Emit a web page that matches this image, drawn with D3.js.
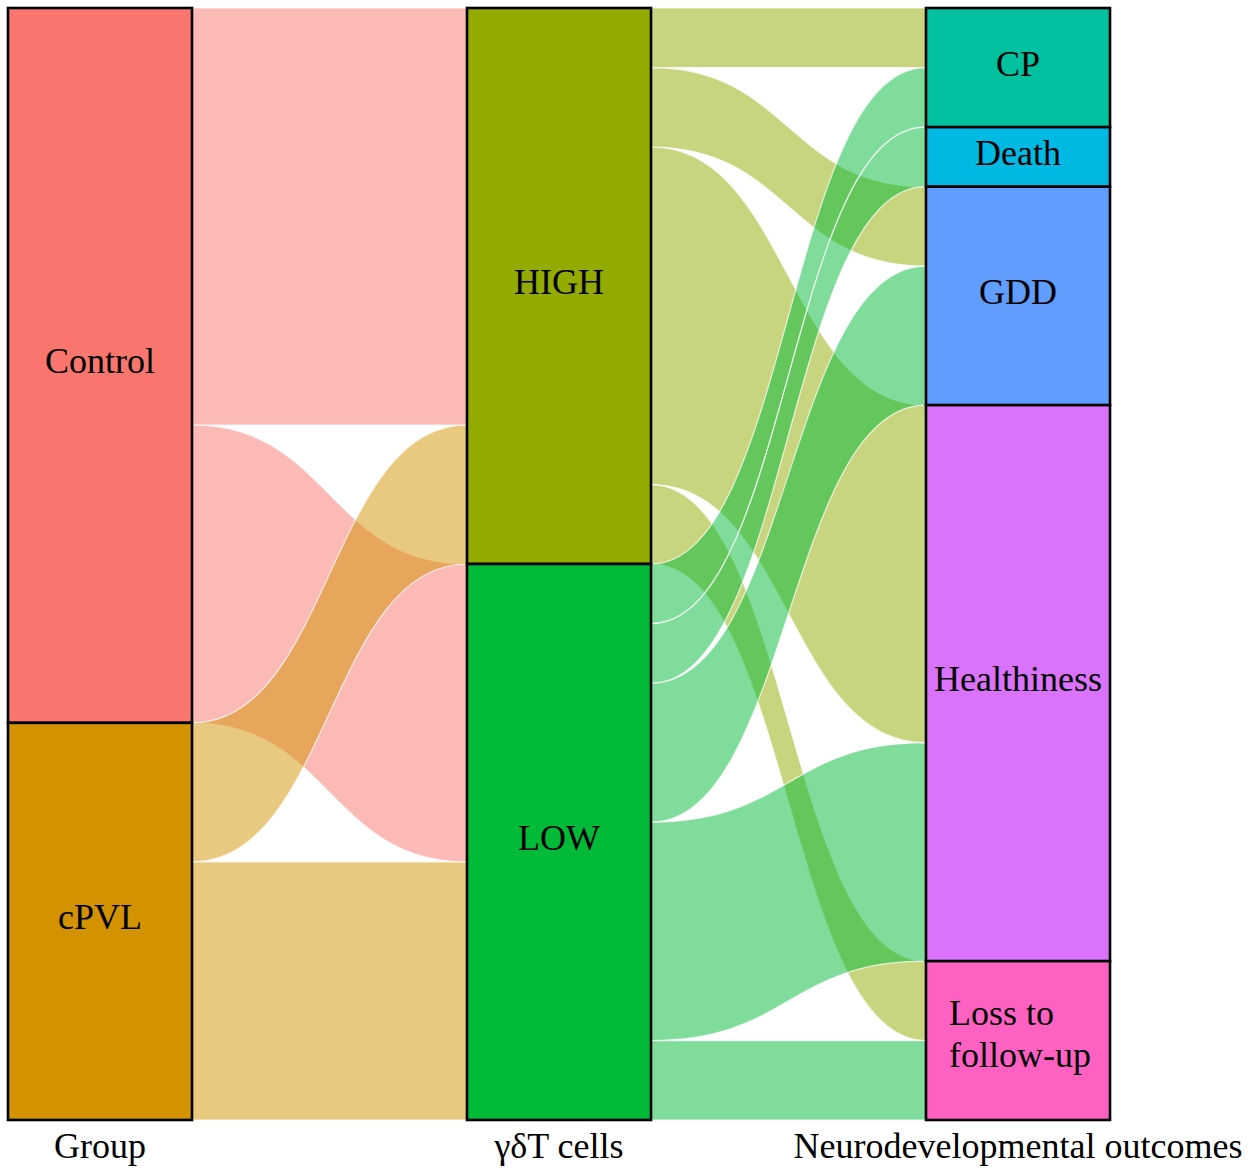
<!DOCTYPE html>
<html>
<head>
<meta charset="utf-8">
<script src="https://cdn.jsdelivr.net/npm/d3@7/dist/d3.min.js"></script>
<style>
  html, body { margin: 0; padding: 0; background: #fff; }
  svg text { font-family: "Liberation Serif", "Times New Roman", serif; fill: #000; }
</style>
</head>
<body>
<svg id="chart" width="1248" height="1171"></svg>
<script>
// ---------------- data ----------------
const axisTitles = ["Group", "γδT cells", "Neurodevelopmental outcomes"];
const groups = ["Control", "cPVL"];
const cells = ["HIGH", "LOW"];
const outcomes = ["CP", "Death", "GDD", "Healthiness", "Loss to follow-up"];
const outcomeLabels = [["CP"], ["Death"], ["GDD"], ["Healthiness"], ["Loss to", "follow-up"]];
// counts: rows = groups, columns = cells
const groupToCell = [
  [21, 15],   // Control -> HIGH, LOW
  [7, 13]     // cPVL -> HIGH, LOW
];
// counts: rows = cells, columns = outcomes
const cellToOutcome = [
  [3, 0, 4, 17, 4],   // HIGH
  [3, 3, 7, 11, 4]    // LOW
];
const strataColors = {
  "Control": "#F8766D", "cPVL": "#D39200",
  "HIGH": "#93AA00", "LOW": "#00BA38",
  "CP": "#00C19F", "Death": "#00B9E3", "GDD": "#619CFF",
  "Healthiness": "#DB72FB", "Loss to follow-up": "#FF61C3"
};

// ---------------- layout ----------------
const svg = d3.select("#chart");
const total = d3.sum(groupToCell.flat());
const y = d3.scaleLinear().domain([0, total]).range([8, 1120]);
const x = d3.scalePoint().domain(axisTitles).range([100, 1018]);
const boxW = 184;

function strata(names, sizes, axis) {
  let acc = 0;
  return names.map((n, i) => {
    const s = { name: n, axis, start: acc, size: sizes[i] };
    acc += sizes[i];
    return s;
  });
}
const groupSizes = groupToCell.map(r => d3.sum(r));
const cellSizes = cells.map((c, j) => d3.sum(groupToCell, r => r[j]));
const outcomeSizes = outcomes.map((o, k) => d3.sum(cellToOutcome, r => r[k]));

const sG = strata(groups, groupSizes, axisTitles[0]);
const sC = strata(cells, cellSizes, axisTitles[1]);
const sO = strata(outcomes, outcomeSizes, axisTitles[2]);

// build flows between two axes
function buildFlows(srcStrata, tgtStrata, matrix) {
  const flows = [];
  const srcOff = srcStrata.map(s => s.start);
  const tgtOff = tgtStrata.map(s => s.start);
  const srcPos = {}, tgtPos = {};
  srcStrata.forEach((s, i) => {
    tgtStrata.forEach((t, j) => {
      srcPos[i + "_" + j] = srcOff[i];
      srcOff[i] += matrix[i][j];
    });
  });
  tgtStrata.forEach((t, j) => {
    srcStrata.forEach((s, i) => {
      tgtPos[i + "_" + j] = tgtOff[j];
      tgtOff[j] += matrix[i][j];
    });
  });
  srcStrata.forEach((s, i) => {
    tgtStrata.forEach((t, j) => {
      const v = matrix[i][j];
      if (v > 0) flows.push({ src: s, tgt: t, value: v, s0: srcPos[i + "_" + j], t0: tgtPos[i + "_" + j] });
    });
  });
  return flows;
}
const flows1 = buildFlows(sG, sC, groupToCell);
const flows2 = buildFlows(sC, sO, cellToOutcome);

function flowPath(f) {
  const x0 = x(f.src.axis) + boxW / 2;
  const x1 = x(f.tgt.axis) - boxW / 2;
  const xm = (x0 + x1) / 2;
  const a0 = y(f.s0), a1 = y(f.s0 + f.value);
  const b0 = y(f.t0), b1 = y(f.t0 + f.value);
  return `M${x0},${a0} C${xm},${a0} ${xm},${b0} ${x1},${b0} L${x1},${b1} C${xm},${b1} ${xm},${a1} ${x0},${a1} Z`;
}

const gFlows = svg.append("g");
gFlows.selectAll("path")
  .data(flows1.concat(flows2))
  .join("path")
  .attr("d", flowPath)
  .attr("fill", d => strataColors[d.src.name])
  .attr("fill-opacity", 0.5)
  .attr("stroke", "#fff")
  .attr("stroke-opacity", 0.75)
  .attr("stroke-width", 1.2);

// boxes
const allStrata = sG.concat(sC, sO);
const gBoxes = svg.append("g");
gBoxes.selectAll("rect")
  .data(allStrata)
  .join("rect")
  .attr("x", d => x(d.axis) - boxW / 2)
  .attr("y", d => y(d.start))
  .attr("width", boxW)
  .attr("height", d => y(d.start + d.size) - y(d.start))
  .attr("fill", d => strataColors[d.name])
  .attr("stroke", "#000")
  .attr("stroke-width", 2.6);

// stratum labels
const labelLines = {};
groups.forEach(g => labelLines[g] = [g]);
cells.forEach(c => labelLines[c] = [c]);
outcomes.forEach((o, i) => labelLines[o] = outcomeLabels[i]);

const gLabels = svg.append("g");
allStrata.forEach(s => {
  const lines = labelLines[s.name];
  const mid = (y(s.start) + y(s.start + s.size)) / 2;
  const cx = x(s.axis);
  if (lines.length === 1) {
    gLabels.append("text")
      .attr("x", cx).attr("y", mid + 8)
      .attr("text-anchor", "middle")
      .attr("font-size", 36)
      .text(lines[0]);
  } else {
    const lh = 42;
    const texts = lines.map((l, i) => gLabels.append("text")
      .attr("y", mid + 5 - lh * (lines.length - 1) / 2 + i * lh)
      .attr("font-size", 36)
      .text(l));
    const w = d3.max(texts, t => t.node().getComputedTextLength());
    texts.forEach(t => t.attr("x", cx - w / 2 + 2).attr("text-anchor", "start"));
  }
});

// axis titles
svg.append("g").selectAll("text")
  .data(axisTitles)
  .join("text")
  .attr("x", d => x(d))
  .attr("y", 1158)
  .attr("text-anchor", "middle")
  .attr("font-size", 36)
  .text(d => d);
</script>
</body>
</html>
